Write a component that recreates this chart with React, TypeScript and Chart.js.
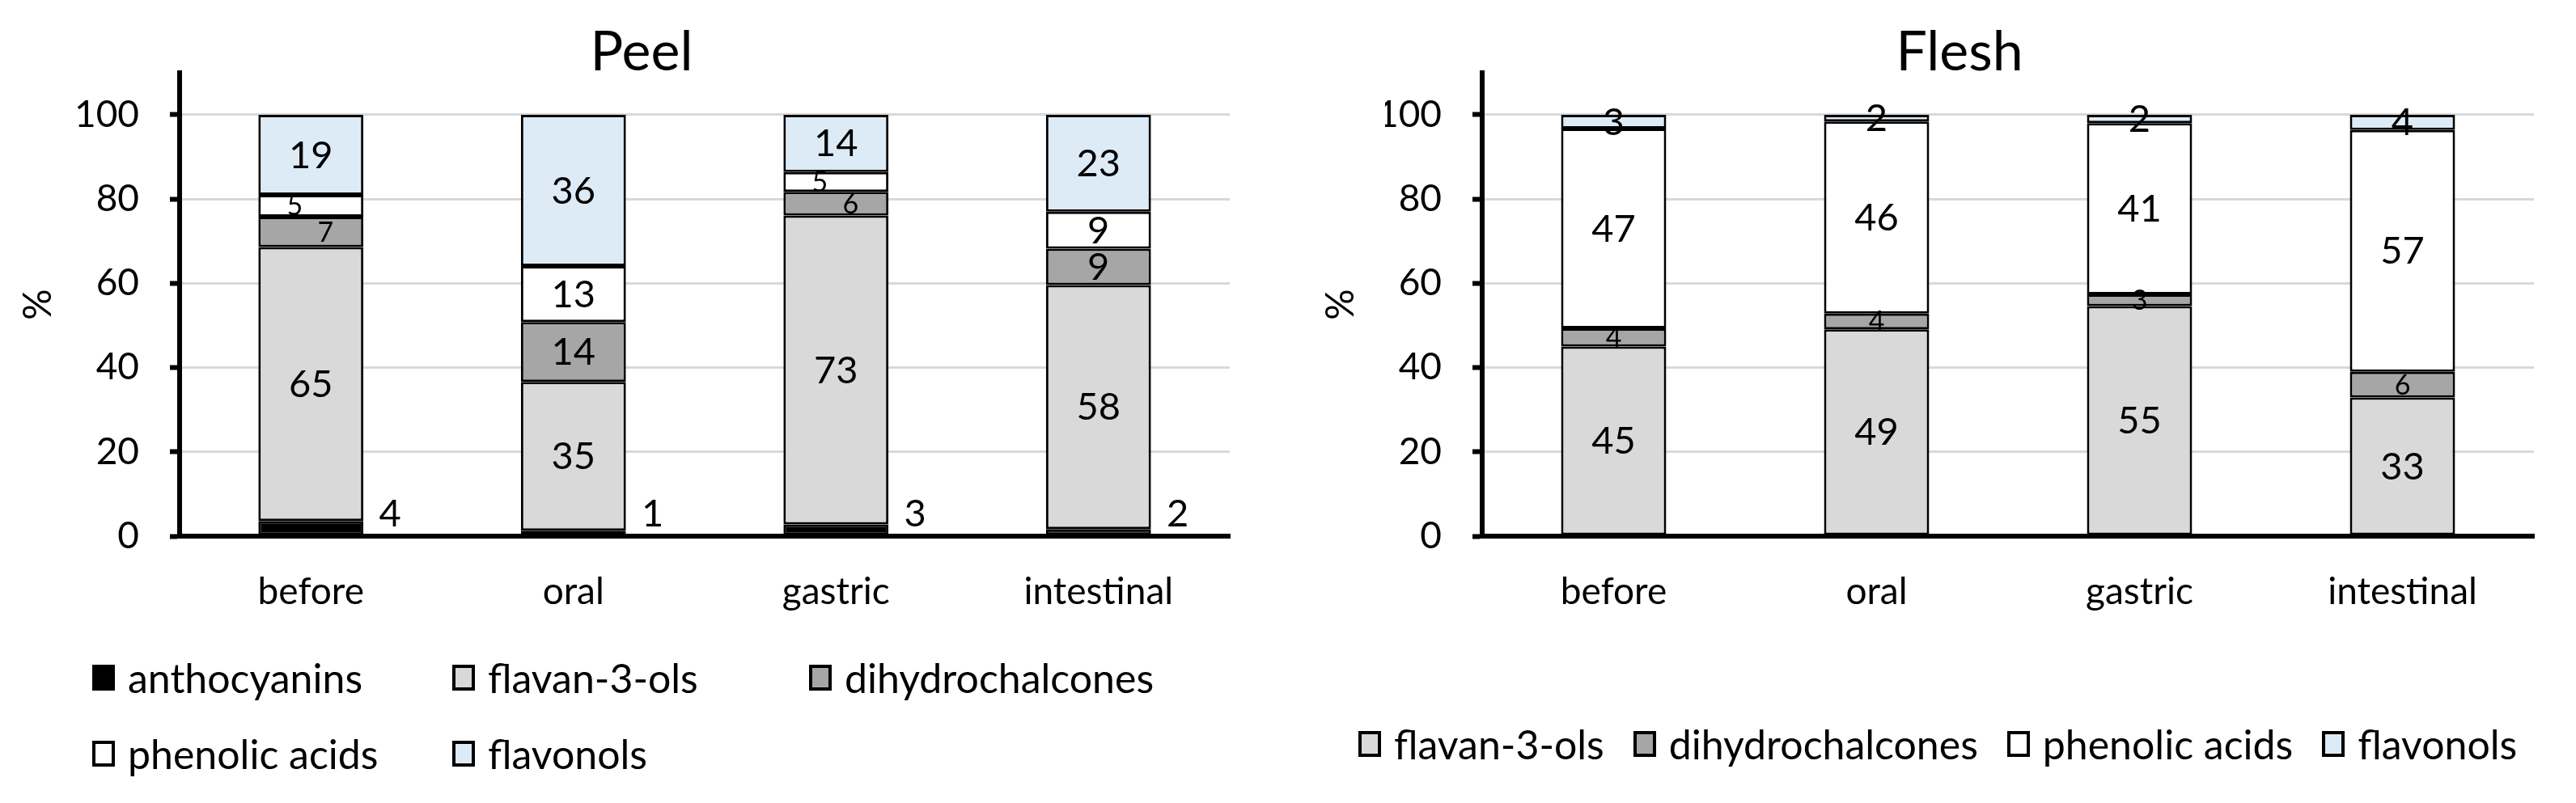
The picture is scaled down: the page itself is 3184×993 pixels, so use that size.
import React, { useEffect, useRef } from "react";
import { Chart, registerables } from "chart.js";

Chart.register(...registerables);

const FONT = "Lato";

const categories = ["before", "oral", "gastric", "intestinal"];
const yTicks = [0, 20, 40, 60, 80, 100];

// Peel composition (%)
const peelAnthocyanins = [3.6, 1.3, 2.8, 1.7];
const peelFlavan3ols = [65.0, 35.3, 73.3, 57.9];
const peelDihydrochalcones = [7.2, 14.2, 5.6, 8.6];
const peelPhenolicAcids = [5.2, 13.3, 4.7, 8.8];
const peelFlavonols = [19.0, 35.9, 13.6, 23.0];

// Flesh composition (%)
const fleshFlavan3ols = [45.0, 49.1, 54.6, 32.9];
const fleshDihydrochalcones = [4.3, 3.7, 2.8, 6.1];
const fleshPhenolicAcids = [47.4, 45.6, 40.6, 57.4];
const fleshFlavonols = [3.3, 1.6, 2.0, 3.6];

const COLORS: Record<string, string> = {
  anthocyanins: "#000000",
  "flavan-3-ols": "#D9D9D9",
  dihydrochalcones: "#A6A6A6",
  "phenolic acids": "#FFFFFF",
  flavonols: "#DDEBF7",
};

type Series = { name: string; data: number[]; outside?: boolean; smallShift?: number };

const peelSeries: Series[] = [
  { name: "anthocyanins", data: peelAnthocyanins, outside: true },
  { name: "flavan-3-ols", data: peelFlavan3ols },
  { name: "dihydrochalcones", data: peelDihydrochalcones, smallShift: 18 },
  { name: "phenolic acids", data: peelPhenolicAcids, smallShift: -20 },
  { name: "flavonols", data: peelFlavonols },
];

const fleshSeries: Series[] = [
  { name: "flavan-3-ols", data: fleshFlavan3ols },
  { name: "dihydrochalcones", data: fleshDihydrochalcones },
  { name: "phenolic acids", data: fleshPhenolicAcids },
  { name: "flavonols", data: fleshFlavonols },
];

const segLabels = {
  id: "segLabels",
  afterDatasetsDraw(chart: any) {
    const ctx = chart.ctx;
    const ys = chart.scales.y;
    const n = chart.data.datasets.length;
    chart.data.datasets.forEach((ds: any, i: number) => {
      const meta = chart.getDatasetMeta(i);
      meta.data.forEach((bar: any, j: number) => {
        const v = Math.round(ds.data[j]);
        const p = bar.getProps(["x", "y", "base", "width"], true);
        ctx.save();
        ctx.fillStyle = "#000";
        ctx.textAlign = "center";
        ctx.textBaseline = "middle";
        if (ds.labelOutside) {
          ctx.font = `47px ${FONT}`;
          ctx.fillText(String(v), p.x + p.width / 2 + 33, ys.getPixelForValue(5.2));
        } else {
          const small = v < 8 && i !== n - 1;
          ctx.font = small ? `34px ${FONT}` : `47px ${FONT}`;
          const dx = small ? ds.labelSmallShift || 0 : 0;
          ctx.fillText(String(v), p.x + dx, (p.y + p.base) / 2 + 1);
        }
        ctx.restore();
      });
    });
  },
};

type Layout = { title: string; padL: number; padR: number; yW: number; yTitlePad: number };

function makeChart(canvas: HTMLCanvasElement, series: Series[], lay: Layout) {
  return new Chart(canvas, {
    type: "bar",
    data: {
      labels: categories,
      datasets: series.map((s) => ({
        label: s.name,
        data: s.data,
        backgroundColor: COLORS[s.name],
        borderColor: "#000",
        borderWidth: 3,
        borderSkipped: false,
        barPercentage: 0.4,
        categoryPercentage: 1,
        labelOutside: !!s.outside,
        labelSmallShift: s.smallShift || 0,
      })) as any,
    },
    options: {
      animation: false,
      responsive: false,
      devicePixelRatio: 1,
      layout: { padding: { left: lay.padL, right: lay.padR, top: 0, bottom: 0 } },
      plugins: {
        legend: { display: false },
        tooltip: { enabled: false },
        title: {
          display: true,
          text: lay.title,
          color: "#000",
          font: { family: FONT, size: 68, weight: "normal", lineHeight: 0.6 },
          padding: { top: 45, bottom: 4 },
        },
      },
      scales: {
        x: {
          stacked: true,
          grid: { display: false, drawTicks: false },
          border: { display: true, color: "#000", width: 6 },
          ticks: { color: "#000", font: { family: FONT, size: 46 }, padding: 42 },
          afterFit: (s: any) => {
            s.height = 137;
          },
        },
        y: {
          stacked: true,
          min: 0,
          max: 110,
          afterBuildTicks: (s: any) => {
            s.ticks = yTicks.map((v) => ({ value: v }));
          },
          afterFit: (s: any) => {
            s.width = lay.yW;
          },
          grid: {
            color: "#D9D9D9",
            lineWidth: 3,
            drawTicks: true,
            tickLength: 12,
            tickColor: "#000",
            tickWidth: 6,
          },
          border: { display: true, color: "#000", width: 6 },
          ticks: { color: "#000", font: { family: FONT, size: 46 }, padding: 38 },
          title: {
            display: true,
            text: "%",
            color: "#000",
            font: { family: FONT, size: 48 },
            padding: { top: lay.yTitlePad, bottom: 0 },
          },
        },
      },
    } as any,
    plugins: [segLabels],
  });
}

function ChartCanvas(props: { series: Series[]; lay: Layout; left: number; width: number }) {
  const ref = useRef<HTMLCanvasElement | null>(null);
  useEffect(() => {
    if (!ref.current) return;
    const c = makeChart(ref.current, props.series, props.lay);
    return () => c.destroy();
  }, []);
  return (
    <canvas
      ref={ref}
      width={props.width}
      height={800}
      style={{ position: "absolute", left: props.left, top: 0, width: props.width, height: 800 }}
    />
  );
}

function LegendItem({ name }: { name: string }) {
  return (
    <div style={{ display: "flex", alignItems: "center", whiteSpace: "nowrap" }}>
      <span
        style={{
          display: "inline-block",
          width: 28,
          height: 32,
          boxSizing: "border-box",
          border: "4px solid #000",
          background: COLORS[name],
          marginRight: 16,
        }}
      />
      <span style={{ fontFamily: FONT, fontSize: 50, lineHeight: 1, color: "#000" }}>{name}</span>
    </div>
  );
}

export default function App() {
  return (
    <div
      style={{
        position: "absolute",
        left: 0,
        top: 0,
        width: 3184,
        height: 993,
        background: "#fff",
        overflow: "hidden",
      }}
    >
      <ChartCanvas
        series={peelSeries}
        left={0}
        width={1586}
        lay={{ title: "Peel", padL: 66, padR: 66, yW: 156, yTitlePad: -47 }}
      />
      <ChartCanvas
        series={fleshSeries}
        left={1600}
        width={1584}
        lay={{ title: "Flesh", padL: 112, padR: 52, yW: 120, yTitlePad: -83 }}
      />
      <div
        style={{
          position: "absolute",
          left: 114,
          top: 791,
          display: "grid",
          gridTemplateColumns: "445px 441px auto",
          gridAutoRows: "94px",
          alignItems: "center",
        }}
      >
        {peelSeries.map((s) => (
          <LegendItem key={s.name} name={s.name} />
        ))}
      </div>
      <div
        style={{
          position: "absolute",
          left: 1679,
          top: 873,
          height: 94,
          display: "flex",
          alignItems: "center",
          gap: 36,
        }}
      >
        {fleshSeries.map((s) => (
          <LegendItem key={s.name} name={s.name} />
        ))}
      </div>
    </div>
  );
}
